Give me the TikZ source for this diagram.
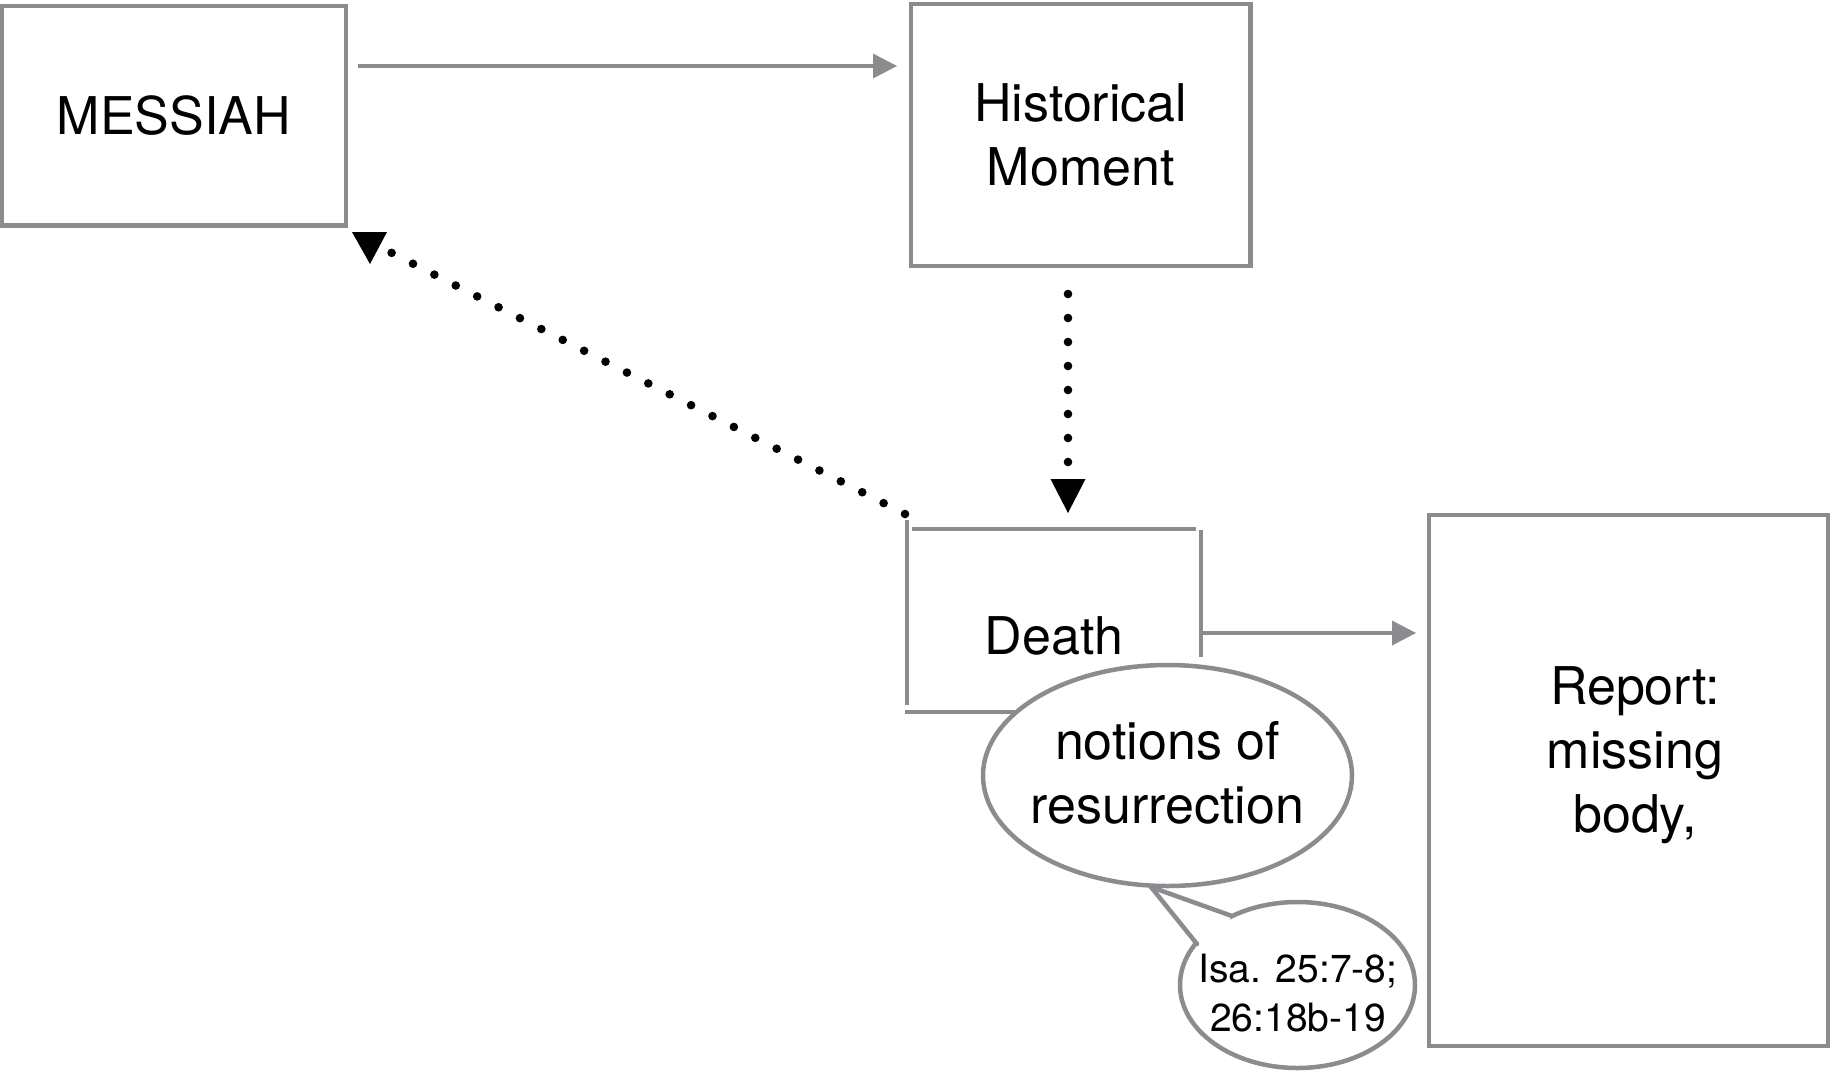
\documentclass[tikz,border=0pt]{standalone}
\usepackage{fontspec}
\setmainfont{TeX Gyre Heros}
\usetikzlibrary{arrows.meta,shapes.geometric,calc}
\definecolor{linegray}{HTML}{8A8C90}
\begin{document}
\begin{tikzpicture}[x=0.5pt,y=-0.5pt,
  bigtext/.style={font=\fontsize{26}{32}\selectfont},
  smalltext/.style={font=\fontsize{19.5}{24.5}\selectfont},
  box/.style={draw=linegray,line width=2.25pt,rectangle,inner sep=0pt,outer sep=0pt,align=center,bigtext},
  oval/.style={ellipse,draw=linegray,line width=2.25pt,fill=white,inner sep=0pt,outer sep=0pt},
  side/.style={draw=linegray,line width=2.25pt},
  grayarrow/.style={draw=linegray,line width=2.25pt,-{Triangle[length=12pt,width=12.5pt,line width=0pt]}},
  dotline/.style={draw=black,line width=4.3pt,line cap=round,dash pattern=on 0pt off 12pt},
  dotarrow/.style={dotline,-{Triangle[length=17pt,width=17.5pt,line width=0pt]}}
]
\useasboundingbox (0,0) rectangle (1832,1072);

% boxes
\node[box,minimum width=172pt,minimum height=109.75pt] (messiah) at (174,115.75) {MESSIAH};
\node[box,minimum width=169.75pt,minimum height=131pt] (hm) at (1080.75,135) {Historical\\Moment};
\node[draw=none,inner sep=0pt,outer sep=0pt,minimum width=147pt,minimum height=91.5pt] (deathbox) at (1054,620.5) {};
\node[box,minimum width=199.5pt,minimum height=265.5pt] (report) at (1628.5,780.5) {};

% death box sides (open corners)
\draw[side] ([yshift=4.5pt]deathbox.north west) -- ([yshift=3.5pt]deathbox.south west);
\draw[side] ([xshift=2.5pt]deathbox.north west) -- ([xshift=-2.5pt]deathbox.north east);
\draw[side] ([yshift=-0.5pt]deathbox.north east) -- ([yshift=-64pt]deathbox.north east);
\draw[side] ([xshift=-1pt]deathbox.south west) -- ([xshift=55pt]deathbox.south west);
\node[bigtext,anchor=base,inner sep=0pt] (death) at (1054,654) {Death};

\node[bigtext,align=center,inner sep=0pt] (reporttext) at (1635,755) {Report:\\missing\\body,};

% connectors
\draw[grayarrow,shorten <=6pt,shorten >=7pt] ([yshift=24.875pt]messiah.east) -- ([yshift=34.5pt]hm.west);
\draw[grayarrow,shorten >=6.5pt] ([yshift=-6.25pt]deathbox.east) -- ([yshift=73.75pt]report.west);
\draw[dotarrow,shorten <=14pt,shorten >=8pt] ([xshift=-6.375pt]hm.south) -- ([xshift=7pt]deathbox.north);
\draw[dotline] ([xshift=-1pt,yshift=7.5pt]deathbox.north west) -- ([xshift=20pt,yshift=-12.25pt]messiah.south east);
\fill[black] ($(messiah.south east)+(6,6.5)$) -- ($(messiah.south east)+(41,6.5)$) -- ($(messiah.south east)+(24,38.5)$) -- cycle;

% speech bubbles
\node[oval,minimum width=184.5pt,minimum height=110.5pt] (notions) at (1167.5,775.5) {};
\node[bigtext,align=center,inner sep=0pt] (notionstext) at (1167.5,773) {notions of\\resurrection};
\node[oval,minimum width=117.5pt,minimum height=83pt] (bubble) at (1297.5,985) {};
\coordinate (tailtip) at (1151,887);
\coordinate (tailA) at (1197,944);
\coordinate (tailB) at (1232,916);
\fill[white] (tailtip) -- (tailA) -- ($(tailA)!0.5!(tailB)+(5,5)$) -- (tailB) -- cycle;
\draw[side,line cap=round] (tailtip) -- (tailA);
\draw[side,line cap=round] (tailtip) -- (tailB);
\node[smalltext,align=center,inner sep=0pt] (isatext) at (1298,993.5) {Isa. 25:7-8;\\26:18b-19};
\end{tikzpicture}
\end{document}
